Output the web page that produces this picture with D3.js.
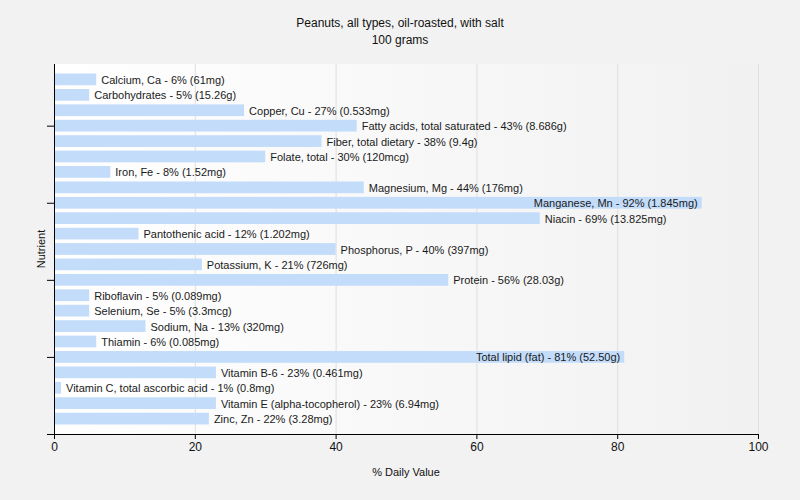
<!DOCTYPE html>
<html>
<head>
<meta charset="utf-8">
<script src="https://cdn.jsdelivr.net/npm/d3@7"></script>
<style>
  html, body { margin: 0; padding: 0; background: #f2f2f2; }
  svg { display: block; font-family: "Liberation Sans", Arial, sans-serif; }
</style>
</head>
<body>
<svg id="chart" width="800" height="500"></svg>
<script>
const titleLines = ["Peanuts, all types, oil-roasted, with salt", "100 grams"];
const nutrients = ["Calcium, Ca", "Carbohydrates", "Copper, Cu", "Fatty acids, total saturated", "Fiber, total dietary", "Folate, total", "Iron, Fe", "Magnesium, Mg", "Manganese, Mn", "Niacin", "Pantothenic acid", "Phosphorus, P", "Potassium, K", "Protein", "Riboflavin", "Selenium, Se", "Sodium, Na", "Thiamin", "Total lipid (fat)", "Vitamin B-6", "Vitamin C, total ascorbic acid", "Vitamin E (alpha-tocopherol)", "Zinc, Zn"];
const dailyValues = [6, 5, 27, 43, 38, 30, 8, 44, 92, 69, 12, 40, 21, 56, 5, 5, 13, 6, 81, 23, 1, 23, 22];
const amounts = ["61mg", "15.26g", "0.533mg", "8.686g", "9.4g", "120mcg", "1.52mg", "176mg", "1.845mg", "13.825mg", "1.202mg", "397mg", "726mg", "28.03g", "0.089mg", "3.3mcg", "320mg", "0.085mg", "52.50g", "0.461mg", "0.8mg", "6.94mg", "3.28mg"];
const xTicks = [0, 20, 40, 60, 80, 100];
const yTicks = [0, 5, 10, 15, 20];
const xTitle = "% Daily Value";
const yTitle = "Nutrient";

(function () {
const svg = d3.select("#chart");
const pLeft = 54, pRight = 758, pTop = 64, pBottom = 434;

const defs = svg.append("defs");
const grad = defs.append("linearGradient").attr("id", "bg").attr("x1", "0").attr("x2", "1").attr("y1", "0").attr("y2", "0");
grad.append("stop").attr("offset", "0").attr("stop-color", "#ffffff");
grad.append("stop").attr("offset", "1").attr("stop-color", "#f1f1f1");

svg.append("rect").attr("x", pLeft).attr("y", pTop).attr("width", pRight - pLeft).attr("height", pBottom - pTop).attr("fill", "url(#bg)");

const x = d3.scaleLinear().domain([0, 100]).range([pLeft, pRight]);
const n = nutrients.length;
const y = d3.scaleLinear().domain([0, 24]).range([pBottom, pTop]);
const pos = i => n - i;
const step = y(0) - y(1);
const barH = step * 0.76;

// grid
svg.append("g").selectAll("line").data(xTicks.filter(d => d > 0)).join("line")
  .attr("x1", d => x(d) + 0.5).attr("x2", d => x(d) + 0.5)
  .attr("y1", pTop).attr("y2", pBottom)
  .attr("stroke", "#dedede").attr("stroke-width", 1);

// bars
svg.append("g").selectAll("rect").data(dailyValues).join("rect")
  .attr("x", x(0) + 1)
  .attr("y", (d, i) => y(pos(i)) - barH / 2)
  .attr("width", d => Math.max(0, x(d) - x(0) - 1))
  .attr("height", barH)
  .attr("fill", "#c2dcfa");

// labels
const lbl = svg.append("g").selectAll("text").data(dailyValues).join("text")
  .attr("y", (d, i) => y(pos(i)) + 0.5)
  .attr("dominant-baseline", "central")
  .attr("font-size", "11px")
  .attr("fill", "#1a1a1a")
  .text((d, i) => `${nutrients[i]} - ${d}% (${amounts[i]})`);
lbl.each(function(d) {
  const w = this.getComputedTextLength();
  const sel = d3.select(this);
  if (x(d) + 5 + w > pRight) {
    sel.attr("x", x(d) - 4).attr("text-anchor", "end");
  } else {
    sel.attr("x", x(d) + 5).attr("text-anchor", "start");
  }
});

// x axis
const xAxis = d3.axisBottom(x).tickValues(xTicks).tickSize(5).tickPadding(3).tickFormat(d3.format("d"));
const gx = svg.append("g").attr("transform", `translate(0,${pBottom})`).call(xAxis);
gx.select(".domain").attr("stroke", "#000");
gx.selectAll(".tick line").attr("stroke", "#000");
gx.selectAll(".tick text").attr("font-size", "12px").attr("fill", "#111").attr("font-family", "Liberation Sans, Arial, sans-serif");

// y axis
const yAxis = d3.axisLeft(y).tickValues(yTicks).tickSize(7).tickFormat("");
const gy = svg.append("g").attr("transform", `translate(${pLeft},0)`).call(yAxis);
gy.select(".domain").attr("stroke", "#000").attr("d", `M0.5,${pTop}V${pBottom}`);
gy.selectAll(".tick line").attr("stroke", "#000");

// titles
svg.append("g").selectAll("text").data(titleLines).join("text")
  .attr("x", 400).attr("y", (d, i) => 27 + i * 17)
  .attr("text-anchor", "middle").attr("font-size", "12px").attr("fill", "#111")
  .text(d => d);

svg.append("text").attr("x", (pLeft + pRight) / 2).attr("y", 476)
  .attr("text-anchor", "middle").attr("font-size", "11px").attr("fill", "#111")
  .text(xTitle);

svg.append("text").attr("transform", `translate(45,${(pTop + pBottom) / 2}) rotate(-90)`)
  .attr("text-anchor", "middle").attr("font-size", "11px").attr("fill", "#111")
  .text(yTitle);
})();
</script>
</body>
</html>
